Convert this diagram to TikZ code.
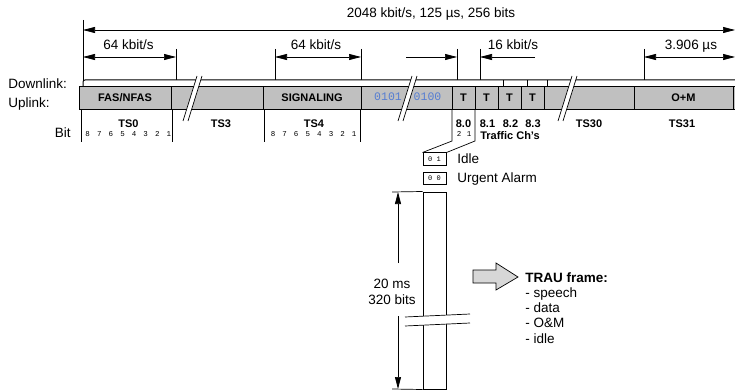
\documentclass[tikz,border=0pt]{standalone}
\usepackage{fontspec}
\setmainfont{Liberation Sans}
\setmonofont{Liberation Mono}
\usepackage{xcolor}
\usepackage{tikz}
\usetikzlibrary{positioning, arrows.meta}

\definecolor{bitblue}{RGB}{85,125,210}
\definecolor{slotgray}{RGB}{192,192,192}
\definecolor{arrowgray}{RGB}{215,215,215}

\begin{document}
\begin{tikzpicture}[
    x=1pt, y=-1pt,
    line width=0.7pt,
    lbl/.style={
        inner sep=0pt,
        font=\fontsize{13.5}{15}\selectfont
    },
    tslbl/.style={
        inner sep=0pt,
        font=\fontsize{11}{12}\selectfont\bfseries
    },
    bitno/.style={
        inner sep=0pt,
        font=\fontsize{7.5}{8}\selectfont\ttfamily
    },
    slot/.style={
        draw,
        fill=slotgray,
        line width=1pt
    },
    codebox/.style={
        draw,
        line width=1pt,
        minimum width=23pt,
        minimum height=12pt,
        inner sep=0pt,
        font=\fontsize{7}{8}\selectfont\ttfamily
    },
    dim/.style={
        {Triangle[length=12pt,width=6pt]}-{Triangle[length=12pt,width=6pt]}
    },
    arrow/.style={
        -{Triangle[length=12pt,width=6pt]}
    }
]
\useasboundingbox (0,0) rectangle (735,390);

% Top dimensions
\node[lbl, anchor=base] (rate) at (431,18) {2048 kbit/s, 125 µs, 256 bits};
\coordinate (all-l) at (83,30);
\coordinate (all-r) at (735,30);
\coordinate (tick0) at (83,20);
\coordinate (tick0-b) at (83,87);
\draw (tick0) -- (tick0-b);
\draw[dim] (all-l) -- (all-r);

\foreach \x/\n in {176/a, 275/b, 361/c, 457/d, 480/e, 644/f} {
    \coordinate (tick\n) at (\x,49);
    \coordinate (tick\n-b) at (\x,87);
    \draw (tick\n) -- (tick\n-b);
}

\node[lbl, anchor=base] (ts0rate) at (128.5,50) {64 kbit/s};
\draw[dim] (83,57) coordinate (d1-l) -- (176,57) coordinate (d1-r);
\node[lbl, anchor=base] (ts4rate) at (316,50) {64 kbit/s};
\draw[dim] (275,57) coordinate (d2-l) -- (361,57) coordinate (d2-r);
\draw[arrow] (406,57) coordinate (d3-l) -- (457,57) coordinate (d3-r);
\node[lbl, anchor=base] (subrate) at (513,50) {16 kbit/s};
\draw[arrow] (535,57) coordinate (d4-r) -- (480,57) coordinate (d4-l);
\node[lbl, anchor=base] (slottime) at (691,50) {3.906 µs};
\draw[dim] (644,57) coordinate (d5-l) -- (735,57) coordinate (d5-r);

% Downlink strip
\draw[line width=1pt, fill=white, rounded corners=2pt] (83,80) rectangle (740,104);
\foreach \x in {503,527,547}
    \draw (\x,80) -- (\x,87);

% Uplink slots
\foreach \a/\b/\n in {79/171/fas, 171/263/ts3, 263/361/sig, 361/452/pay,
                      452/475/tc0, 475/498/tc1, 498/521/tc2, 521/544/tc3,
                      544/634/ts30, 634/733/om, 733/740/end} {
    \draw[slot] (\a,87) rectangle (\b,110);
    \coordinate (\n) at ({(\a+\b)/2},102);
}

\node[tslbl, anchor=base] (fas-t) at (fas) {FAS/NFAS};
\node[tslbl, anchor=base] (sig-t) at (sig) {SIGNALING};
\node[tslbl, anchor=base] (om-t) at (om) {O+M};
\foreach \n in {tc0,tc1,tc2,tc3}
    \node[tslbl, anchor=base] (\n-t) at (\n) {T};
\node[inner sep=0pt, anchor=base, text=bitblue,
      font=\fontsize{11.5}{12}\selectfont\ttfamily] (pay-a) at (388,101) {0101};
\node[inner sep=0pt, anchor=base, text=bitblue,
      font=\fontsize{11.5}{12}\selectfont\ttfamily] (pay-b) at (427.5,101) {0100};

% Breaks
\foreach \x in {183,398,558} {
    \fill[white] (\x,121) -- (\x+14,76) -- (\x+19,76) -- (\x+5,121) -- cycle;
    \draw (\x,121) -- (\x+14,76) (\x+5,121) -- (\x+19,76);
}

% Side labels
\node[lbl, anchor=base west] (down) at (8,89) {Downlink:};
\node[lbl, anchor=base west] (up) at (8,108) {Uplink:};
\node[lbl, anchor=base east] (bit) at (71,138) {Bit};

% Slot labels
\draw (81,110) -- (81,142) (172,110) -- (172,142);
\draw (264,110) -- (264,142) (360,110) -- (360,142);
\node[tslbl, anchor=base] (ts0) at (128.5,128) {TS0};
\node[tslbl, anchor=base] (ts3) at (221,128) {TS3};
\node[tslbl, anchor=base] (ts4) at (314,128) {TS4};
\node[tslbl, anchor=base] (ts30) at (589,128) {TS30};
\node[tslbl, anchor=base] (ts31) at (682,128) {TS31};
\foreach \k in {0,...,7} {
    \pgfmathtruncatemacro\b{8-\k}
    \node[bitno, anchor=base] (ts0-b\k) at ({87.7+11.6*\k},137) {\b};
    \node[bitno, anchor=base] (ts4-b\k) at ({273+11.6*\k},137) {\b};
}

% Traffic channels
\node[tslbl, anchor=base] (ch0) at (463.5,128) {8.0};
\node[tslbl, anchor=base] (ch1) at (487.5,128) {8.1};
\node[tslbl, anchor=base] (ch2) at (510.5,128) {8.2};
\node[tslbl, anchor=base] (ch3) at (533,128) {8.3};
\node[tslbl, anchor=base] (traffic) at (510,140) {Traffic Ch's};
\node[bitno, anchor=base] (ch0-b1) at (459,137) {2};
\node[bitno, anchor=base] (ch0-b0) at (469,137) {1};

% Codes
\node[codebox] (idlebox) at (434.5,159) {0 1};
\node[codebox] (alarmbox) at (434.5,178) {0 0};
\node[lbl, anchor=base west] (idle) at (457,164) {Idle};
\node[lbl, anchor=base west] (alarm) at (457,182.5) {Urgent Alarm};
\draw (452,110) -- (452,141) -- (idlebox.north west);
\draw (475,110) -- (475,141) -- (idlebox.north east);

% TRAU frame
\node[draw, line width=1pt, minimum width=23pt, minimum height=197pt,
      inner sep=0pt] (trau) at (434.5,290.5) {};
\fill[white] (405,317) -- (470,314) -- (470,323) -- (405,326) -- cycle;
\draw (405,317) -- (470,314) (405,326) -- (470,323);
\draw (trau.north west) -- (392,192) coordinate (len-t);
\draw (trau.south west) -- (392,389) coordinate (len-b);
\draw[arrow] (398,263) -- (398,192);
\draw[arrow] (398,316) -- (398,389);
\node[lbl, anchor=base] (ms) at (392,288) {20 ms};
\node[lbl, anchor=base] (bits) at (392,304) {320 bits};

\draw[fill=arrowgray] (473,270) -- (496,270) -- (496,263) -- (518,277)
    -- (496,290) -- (496,283) -- (473,283) -- cycle;
\node[lbl, anchor=base west, font=\fontsize{13.5}{15}\selectfont\bfseries]
    (frame) at (525,282) {TRAU frame:};
\foreach \t [count=\i] in {speech, data, O\&M, idle}
    \node[lbl, anchor=base west] (item\i) at (525,{282+15.3*\i}) {- \t};

\end{tikzpicture}
\end{document}
